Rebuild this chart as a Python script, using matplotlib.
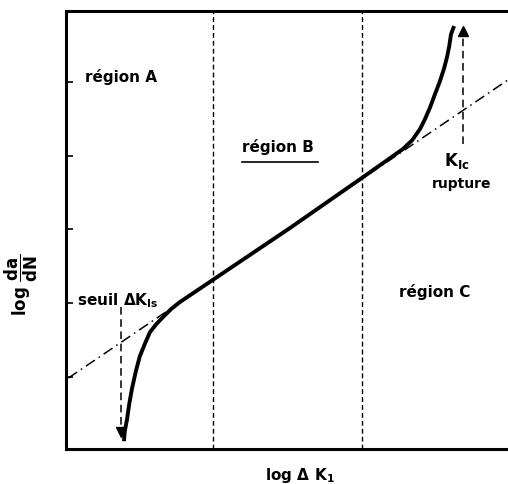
#!/usr/bin/env python3
"""
Fatigue crack growth curve: log da/dN vs log delta K (regions A, B, C).
"""

import matplotlib
matplotlib.use("Agg")
import matplotlib.pyplot as plt

plt.rcParams["font.family"] = ["DejaVu Sans"]
plt.rcParams["font.weight"] = "bold"
plt.rcParams["mathtext.fontset"] = "custom"
plt.rcParams["mathtext.rm"] = "DejaVu Sans:bold"
plt.rcParams["mathtext.it"] = "DejaVu Sans:bold"
plt.rcParams["mathtext.bf"] = "DejaVu Sans:bold"

# crack growth curve (axes units 0..100)
curve_x = [13.1, 13.3, 13.8, 14.3, 14.9, 15.8, 16.7, 17.9, 19.0, 20.4, 21.9,
           23.8, 25.8, 34.2, 50.7, 66.5, 76.2, 78.3, 80.1, 81.2, 82.4, 83.5,
           84.6, 85.5, 86.2, 86.7, 87.1, 87.8]
curve_y = [1.8, 4.1, 6.8, 10.3, 13.7, 17.8, 21.2, 24.2, 26.7, 28.5, 30.1,
           32.0, 33.6, 39.3, 50.5, 61.6, 68.5, 70.5, 73.1, 75.3, 78.1, 81.1,
           84.0, 86.8, 89.5, 92.0, 94.7, 96.6]

# Paris law extension (dash-dot)
paris_x = [0.5, 100.0]
paris_y = [16.2, 84.3]

# region boundaries
bounds_x = [33.3, 67.0]

# threshold and rupture arrows: (x, y_start, y_end)
seuil_arrow = (12.4, 32.4, 3.9)
kic_arrow = (89.8, 69.6, 95.4)

ytick_pos = [16.4, 33.3, 50.2, 66.9, 83.8]

fig = plt.figure(figsize=(5.08, 4.85), dpi=100)
ax = fig.add_axes([0.130, 0.072, 0.870, 0.903])
ax.set_xlim(0, 100)
ax.set_ylim(0, 100)

for b in bounds_x:
    ax.plot([b, b], [0, 100], color="black", lw=1.0, dashes=(3.5, 2.2))

ax.plot(paris_x, paris_y, color="black", lw=1.1, dashes=(7, 3, 1, 3))

ax.plot(curve_x, curve_y, color="black", lw=2.8, solid_capstyle="butt",
        solid_joinstyle="round")

# arrows
for (ax_x, y0, y1) in (seuil_arrow, kic_arrow):
    ax.plot([ax_x, ax_x], [y0, y1], color="black", lw=1.1, dashes=(5, 3))
    ax.plot([ax_x], [y1], marker="v" if y1 < y0 else "^", color="black",
            markersize=7, clip_on=False)

# texts
ax.text(4.3, 85.2, "région A", fontsize=11, fontweight="bold", va="center")
ax.text(48.0, 69.2, "région B", fontsize=11, fontweight="bold",
        ha="center", va="center")
ax.plot([39.8, 57.0], [65.5, 65.5], color="black", lw=1.2)
ax.text(83.5, 36.1, "région C", fontsize=11, fontweight="bold",
        ha="center", va="center")
ax.text(2.5, 34.2, r"seuil $\Delta \mathrm{K}_{\mathrm{Is}}$", fontsize=11,
        va="center")
ax.text(88.5, 66.0, r"$\mathrm{K}_{\mathrm{Ic}}$", fontsize=12,
        ha="center", va="center")
ax.text(89.4, 60.7, "rupture", fontsize=10, fontweight="bold",
        ha="center", va="center")

ax.text(52.9, -5.9, r"log $\Delta$ K$_1$", fontsize=11, ha="center",
        va="center", clip_on=False)
ax.text(-10.0, 37.7, r"log $\dfrac{\mathrm{da}}{\mathrm{dN}}$", fontsize=12,
        rotation=90, ha="center", va="center", clip_on=False)

# frame
ax.spines["right"].set_visible(False)
for s in ("left", "top", "bottom"):
    ax.spines[s].set_linewidth(2.2)
ax.set_xticks([])
ax.set_yticks(ytick_pos)
ax.set_yticklabels([])
ax.tick_params(axis="y", direction="in", length=5, width=1.2, left=True)

fig.savefig("out.png", dpi=100)
